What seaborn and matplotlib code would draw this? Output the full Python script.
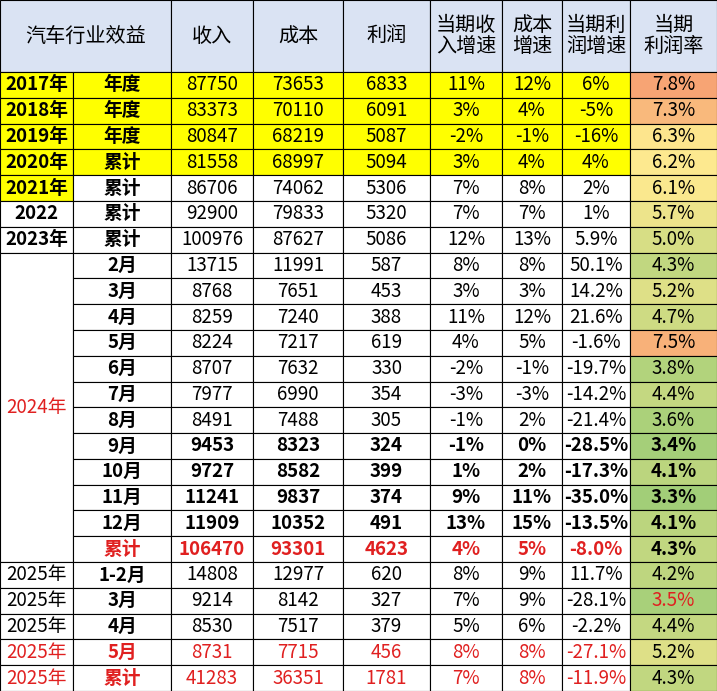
import matplotlib
matplotlib.use("Agg")
import matplotlib.pyplot as plt
import seaborn as sns
from matplotlib.patches import Rectangle
from matplotlib.colors import LinearSegmentedColormap, Normalize

sns.set_theme(style="white")
plt.rcParams["font.family"] = "Noto Sans CJK SC"

headers = ["汽车行业效益", "收入", "成本", "利润", "当期收\n入增速", "成本\n增速", "当期利\n润增速", "当期\n利润率"]
years = ["2017年", "2018年", "2019年", "2020年", "2021年", "2022", "2023年",
         "2024年", "2024年", "2024年", "2024年", "2024年", "2024年", "2024年", "2024年", "2024年", "2024年", "2024年", "2024年",
         "2025年", "2025年", "2025年", "2025年", "2025年"]
periods = ["年度", "年度", "年度", "累计", "累计", "累计", "累计",
           "2月", "3月", "4月", "5月", "6月", "7月", "8月", "9月", "10月", "11月", "12月", "累计",
           "1-2月", "3月", "4月", "5月", "累计"]
revenue = [87750, 83373, 80847, 81558, 86706, 92900, 100976,
           13715, 8768, 8259, 8224, 8707, 7977, 8491, 9453, 9727, 11241, 11909, 106470,
           14808, 9214, 8530, 8731, 41283]
cost = [73653, 70110, 68219, 68997, 74062, 79833, 87627,
        11991, 7651, 7240, 7217, 7632, 6990, 7488, 8323, 8582, 9837, 10352, 93301,
        12977, 8142, 7517, 7715, 36351]
profit = [6833, 6091, 5087, 5094, 5306, 5320, 5086,
          587, 453, 388, 619, 330, 354, 305, 324, 399, 374, 491, 4623,
          620, 327, 379, 456, 1781]
rev_growth = ["11%", "3%", "-2%", "3%", "7%", "7%", "12%",
              "8%", "3%", "11%", "4%", "-2%", "-3%", "-1%", "-1%", "1%", "9%", "13%", "4%",
              "8%", "7%", "5%", "8%", "7%"]
cost_growth = ["12%", "4%", "-1%", "4%", "8%", "7%", "13%",
               "8%", "3%", "12%", "5%", "-1%", "-3%", "2%", "0%", "2%", "11%", "15%", "5%",
               "9%", "9%", "6%", "8%", "8%"]
profit_growth = ["6%", "-5%", "-16%", "4%", "2%", "1%", "5.9%",
                 "50.1%", "14.2%", "21.6%", "-1.6%", "-19.7%", "-14.2%", "-21.4%", "-28.5%", "-17.3%", "-35.0%", "-13.5%", "-8.0%",
                 "11.7%", "-28.1%", "-2.2%", "-27.1%", "-11.9%"]
margin = [7.8, 7.3, 6.3, 6.2, 6.1, 5.7, 5.0,
          4.3, 5.2, 4.7, 7.5, 3.8, 4.4, 3.6, 3.4, 4.1, 3.3, 4.1, 4.3,
          4.2, 3.5, 4.4, 5.2, 4.3]

col_w = [73, 98, 82, 90, 87, 72, 60, 68, 87]
header_h = 72
n = len(years)
row_h = (691 - header_h) / n
xe = [0]
for w in col_w:
    xe.append(xe[-1] + w)

lo, mid, hi = 3.3, 6.2, 7.8
cmap = LinearSegmentedColormap.from_list(
    "m", [(0, "#a2ce78"), ((mid - lo) / (hi - lo), "#fde98f"), (1, "#f7a474")])
norm = Normalize(lo, hi)

fig = plt.figure(figsize=(7.17, 6.91), dpi=100)
ax = fig.add_axes([0, 0, 1, 1])
ax.set_xlim(0, xe[-1]); ax.set_ylim(691, 0); ax.axis("off")

def cell(c0, c1, r0, r1, fc, text, color="black", bold=False, size=13.5):
    ax.add_patch(Rectangle((xe[c0], r0), xe[c1] - xe[c0], r1 - r0, facecolor=fc, edgecolor="black", lw=0.8))
    ax.text((xe[c0] + xe[c1]) / 2, (r0 + r1) / 2, text, ha="center", va="center", color=color,
            fontweight="bold" if bold else "normal", fontsize=size, linespacing=1.0)

cell(0, 2, 0, header_h, "#dae3f3", headers[0], size=14.5)
for j, h in enumerate(headers[1:]):
    cell(j + 2, j + 3, 0, header_h, "#dae3f3", h, size=14.5)

for i in range(n):
    r0 = header_h + i * row_h
    r1 = r0 + row_h
    is24 = 7 <= i <= 18
    red = i in (18, 22, 23)
    bold_nums = 14 <= i <= 18
    yel = i <= 3
    fc = "#ffff00" if yel else "white"
    tc = "#e02020" if red else "black"
    if is24:
        if i == 7:
            r_end = header_h + 19 * row_h
            cell(0, 1, r0, r_end, "white", "2024年", color="#e02020")
    else:
        cell(0, 1, r0, r1, "#ffff00" if i <= 4 else "white", years[i],
             color="#e02020" if i in (22, 23) else "black", bold=(i <= 6))
    cell(1, 2, r0, r1, fc, periods[i], color=tc, bold=True)
    vals = [revenue[i], cost[i], profit[i], rev_growth[i], cost_growth[i], profit_growth[i]]
    for j, v in enumerate(vals):
        cell(j + 2, j + 3, r0, r1, fc, str(v), color=tc, bold=bold_nums)
    mc = "#e02020" if i == 20 else "black"
    cell(8, 9, r0, r1, cmap(norm(margin[i])), f"{margin[i]:.1f}%", color=mc, bold=bold_nums)

fig.savefig("out.png", dpi=100)
